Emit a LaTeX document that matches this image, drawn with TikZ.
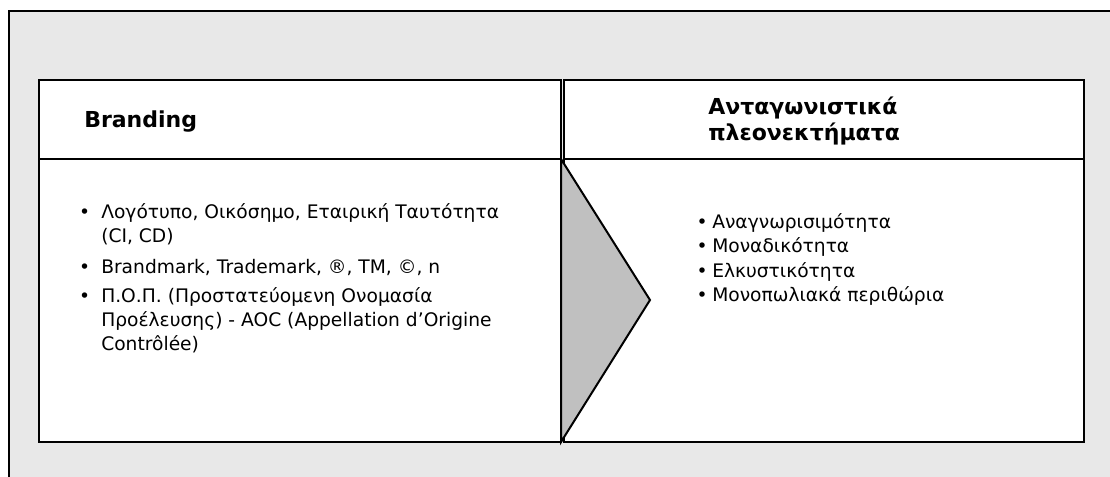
\documentclass[tikz,border=0pt]{standalone}
\usepackage{fontspec}
\setmainfont{DejaVu Sans}
\usetikzlibrary{calc}

\definecolor{panelgray}{HTML}{E8E8E8}
\definecolor{arrowgray}{HTML}{C0C0C0}
\newcommand{\itembul}[1]{\llap{\textbullet\hspace{#1}}}

\begin{document}
\begin{tikzpicture}[x=0.75pt,y=-0.75pt,
  box/.style={draw,fill=white,line width=1.7pt,rectangle,anchor=north west,outer sep=0pt,inner sep=0pt},
  hdr/.style={box,minimum width=#1,minimum height=59.25pt},
  bdy/.style={box,minimum width=#1,minimum height=212.25pt},
  title/.style={inner sep=0pt,font=\fontsize{16.5}{16}\selectfont\bfseries},
  item/.style={anchor=north west,align=left,inner sep=0pt,font=\fontsize{14}{18}\selectfont},
  ritem/.style={anchor=base west,inner sep=0pt,font=\fontsize{14}{18}\selectfont}]
\useasboundingbox (0,0) rectangle (1110,476);
% panel
\fill[panelgray] (9,11) rectangle (1112,478);
\draw[line width=1.5pt] (1112,11) -- (9,11) -- (9,478);
% left column
\node[hdr=391.5pt] (hdrL) at (39,80) {};
\node[bdy=391.5pt] (bodyL) at (hdrL.south west) {};
% right column
\node[hdr=390pt] (hdrR) at (564,80) {};
\node[bdy=390pt] (bodyR) at (hdrR.south west) {};
% chevron
\coordinate (tip) at (650,300);
\filldraw[fill=arrowgray,line width=1.5pt,line join=miter] (bodyL.north east) -- (tip) -- (bodyL.south east) -- cycle;
% headings
\node[title,anchor=base west] (tL) at (84,127) {Branding};
\node[title,anchor=north west,align=left] (tR) at (708,97.1) {\strut Ανταγωνιστικά\\πλεονεκτήματα};
% left items
\node[item] (i1) at (101,201.2) {\strut\itembul{8.4pt}Λογότυπο, Οικόσημο, Εταιρική Ταυτότητα\\(CI, CD)};
\node[item] (i2) at ($(i1.north west)+(0,55)$) {\strut\itembul{8.4pt}Brandmark, Trademark, ®, TM, ©, n};
\node[item] (i3) at ($(i2.north west)+(0,29)$) {\strut\itembul{8.4pt}Π.Ο.Π. (Προστατεύομενη Ονομασία\\Προέλευσης) - AOC (Appellation d’Origine\\Contrôlée)};
% right items
\node[ritem] (r1) at (712,228) {\itembul{3.4pt}Αναγνωρισιμότητα};
\node[ritem] (r2) at ($(r1.base west)+(0,24.5)$) {\itembul{3.4pt}Μοναδικότητα};
\node[ritem] (r3) at ($(r2.base west)+(0,24.5)$) {\itembul{3.4pt}Ελκυστικότητα};
\node[ritem] (r4) at ($(r3.base west)+(0,24.5)$) {\itembul{3.4pt}Μονοπωλιακά περιθώρια};
\end{tikzpicture}
\end{document}
